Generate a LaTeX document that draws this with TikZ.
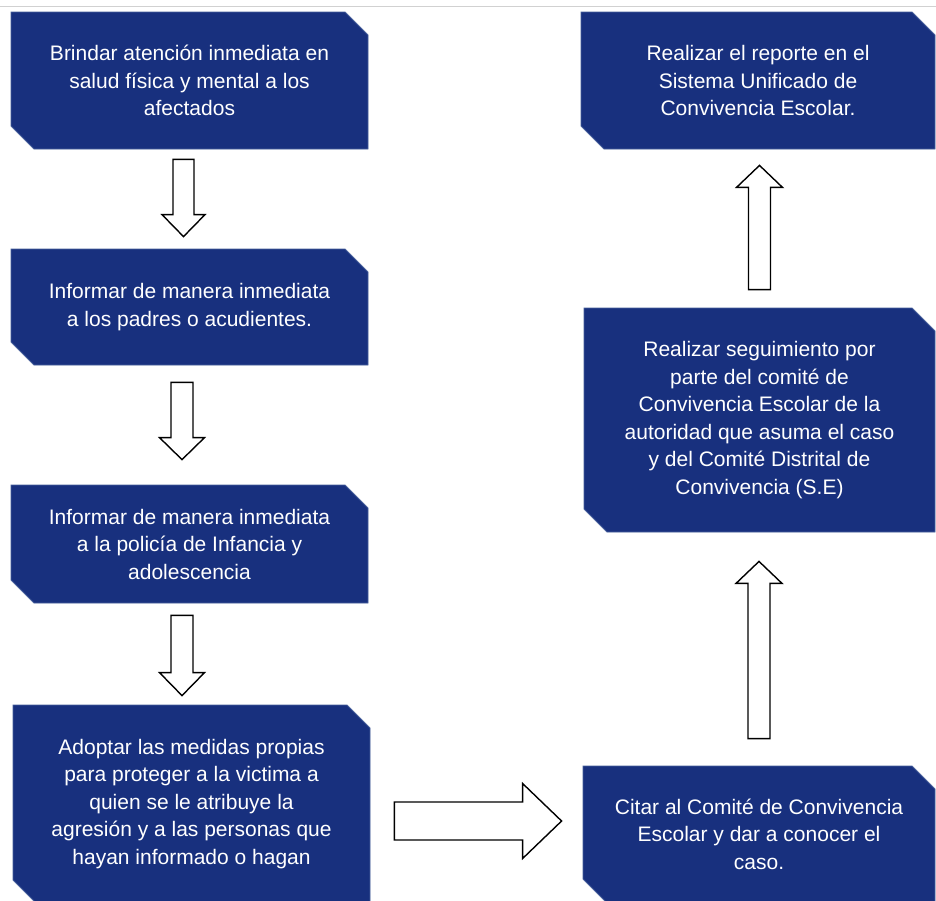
\documentclass[tikz,border=0pt]{standalone}
\usepackage{fontspec}
\setmainfont{Liberation Sans}
\usetikzlibrary{shapes.misc,calc}
\definecolor{navy}{RGB}{24,48,126}
\definecolor{navyedge}{RGB}{70,95,155}
\newcommand{\blockarrow}[5]{%
  \coordinate (ba-h) at ($(#2)!#5!(#1)$);
  \draw[blockline] ($(#1)!#3!90:(#2)$) -- ($(ba-h)!#3!90:(#2)$) -- ($(ba-h)!#4!90:(#2)$) -- (#2)
    -- ($(ba-h)!#4!-90:(#2)$) -- ($(ba-h)!#3!-90:(#2)$) -- ($(#1)!#3!-90:(#2)$) -- cycle;}
\tikzset{
  box/.style={chamfered rectangle, chamfered rectangle corners={north east,south west},
    chamfered rectangle xsep=11.5pt, chamfered rectangle ysep=11.5pt,
    fill=navy, draw=navyedge, line width=0.8pt, inner sep=0pt, text=white, align=center,
    font=\fontsize{21}{27.5}\selectfont},
  blockline/.style={draw=black, fill=white, line width=1.4pt, line join=miter}
}
\begin{document}
\begin{tikzpicture}[x=1pt,y=1pt]
\useasboundingbox (0,0) rectangle (936,-900);
\clip (0,0) rectangle (936,-900);
\fill[white] (0,0) rectangle (936,-900);
\draw[black!18, line width=1pt] (0,-6) -- (936,-6);

\node[box, minimum width=357pt, minimum height=137pt] (b1) at (189.5,-80.5)
  {Brindar atención inmediata en\\salud física y mental a los\\afectados};
\node[box, minimum width=357pt, minimum height=116pt] (b2) at (189.5,-307)
  {Informar de manera inmediata\\a los padres o acudientes.};
\node[box, minimum width=357pt, minimum height=118pt] (b3) at (189.5,-544)
  {Informar de manera inmediata\\a la policía de Infancia y\\adolescencia};
\node[box, minimum width=357pt, minimum height=198pt] (b4) at (191.5,-804)
  {Adoptar las medidas propias\\para proteger a la victima a\\quien se le atribuye la\\agresión y a las personas que\\hayan informado o hagan};
\node[box, minimum width=354pt, minimum height=137pt] (r1) at (758,-80.5)
  {Realizar el reporte en el\\Sistema Unificado de\\Convivencia Escolar.};
\node[box, minimum width=351pt, minimum height=224pt] (r2) at (759.5,-420)
  {Realizar seguimiento por\\parte del comité de\\Convivencia Escolar de la\\autoridad que asuma el caso\\y del Comité Distrital de\\Convivencia (S.E)};
\node[box, minimum width=352pt, minimum height=136pt] (r3) at (759,-834)
  {Citar al Comité de Convivencia\\Escolar y dar a conocer el\\caso.};

% connector end points
\coordinate (a1s) at ($(b1.south)+(-6,-10)$);
\coordinate (a1e) at ($(b2.north)+(-6,12)$);
\coordinate (a2s) at ($(b2.south)+(-7.5,-17)$);
\coordinate (a2e) at ($(b3.north)+(-7.5,25)$);
\coordinate (a3s) at ($(b3.south)+(-7.5,-12)$);
\coordinate (a3e) at ($(b4.north)+(-9.5,9)$);
\coordinate (hs) at ($(b4.east)+(24,-17)$);
\coordinate (he) at ($(r3.west)+(-21,13)$);
\coordinate (u2s) at ($(r3.north)+(0,27)$);
\coordinate (u2e) at ($(r2.south)+(-0.5,-29)$);
\coordinate (u1s) at ($(r2.north)+(0,18)$);
\coordinate (u1e) at ($(r1.south)+(1.5,-16)$);

\blockarrow{a1s}{a1e}{10.5pt}{21.5pt}{22pt}
\blockarrow{a2s}{a2e}{11pt}{22.5pt}{22pt}
\blockarrow{a3s}{a3e}{11pt}{22.5pt}{23pt}
\blockarrow{hs}{he}{19pt}{37.5pt}{39pt}
\blockarrow{u2s}{u2e}{11pt}{23pt}{22pt}
\blockarrow{u1s}{u1e}{11pt}{23pt}{22pt}
\end{tikzpicture}
\end{document}
